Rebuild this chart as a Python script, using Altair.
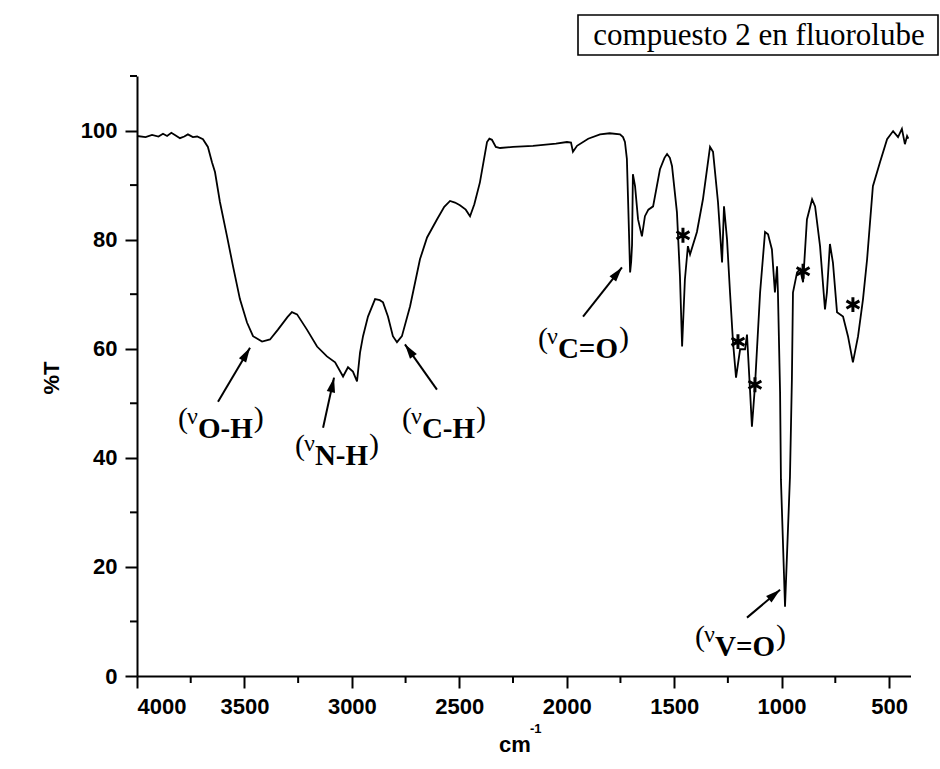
import math
import altair as alt
import pandas as pd

# ---------------- data ----------------
wavenumber = [4000, 3960, 3930, 3900, 3879, 3860, 3840, 3820, 3800, 3780, 3763, 3740, 3720,
              3693, 3670, 3651, 3637, 3614, 3581, 3553, 3521, 3488, 3460, 3418, 3381, 3344,
              3300, 3279, 3255, 3209, 3162, 3116, 3078, 3041, 3018, 2995, 2976, 2962, 2948,
              2925, 2892, 2870, 2855, 2832, 2809, 2790, 2767, 2729, 2683, 2650, 2604, 2570,
              2543, 2520, 2497, 2470, 2450, 2430, 2404, 2371, 2360, 2348, 2330, 2310, 2250,
              2157, 2050, 1999, 1980, 1971, 1952, 1900, 1845, 1800, 1752, 1738, 1729, 1720,
              1715, 1705, 1700, 1696, 1692, 1682, 1668, 1650, 1636, 1620, 1598, 1566, 1545,
              1533, 1520, 1510, 1487, 1473, 1463, 1450, 1436, 1426, 1394, 1366, 1333, 1319,
              1296, 1277, 1268, 1254, 1240, 1226, 1212, 1193, 1170, 1161, 1147, 1138, 1124,
              1100, 1077, 1063, 1045, 1031, 1021, 1017, 1007, 1003, 984, 961, 952, 947, 928,
              914, 900, 882, 858, 844, 821, 798, 789, 775, 761, 742, 714, 691, 668, 644, 621,
              602, 575, 542, 509, 481, 458, 440, 426, 416, 410]
transmittance = [99.0, 98.8, 99.2, 98.9, 99.4, 99.0, 99.6, 99.1, 98.6, 98.9, 99.3, 98.8, 98.9,
                 98.4, 97.0, 94.2, 92.4, 86.9, 80.6, 75.1, 69.1, 64.8, 62.3, 61.3, 61.7, 63.5,
                 65.8, 66.7, 66.3, 63.5, 60.4, 58.6, 57.5, 54.9, 56.6, 55.8, 54.0, 59.3, 62.3,
                 65.9, 69.1, 68.9, 68.5, 65.9, 62.3, 61.2, 62.3, 67.8, 76.4, 80.4, 83.7, 86.0,
                 87.1, 86.8, 86.3, 85.5, 84.3, 86.5, 90.5, 97.9, 98.5, 98.3, 97.0, 96.8, 97.0,
                 97.2, 97.6, 97.9, 97.8, 96.1, 97.2, 98.5, 99.3, 99.5, 99.3, 98.8, 97.9, 94.8,
                 88.0, 74.0, 76.0, 79.0, 92.0, 89.8, 83.7, 80.6, 84.3, 85.5, 86.1, 92.9, 95.0,
                 95.7, 95.0, 93.5, 85.0, 73.3, 60.4, 72.7, 78.8, 77.3, 81.4, 87.4, 97.0, 96.1,
                 86.9, 75.8, 86.1, 80.1, 70.3, 61.2, 54.7, 59.9, 59.9, 62.6, 52.5, 45.7, 53.1,
                 70.3, 81.4, 81.0, 78.2, 70.3, 75.1, 70.3, 52.0, 36.0, 12.7, 36.5, 54.4, 70.3, 74.0,
                 74.6, 72.2, 83.7, 87.4, 86.1, 78.8, 67.2, 70.3, 79.2, 75.8, 66.7, 65.9, 62.3, 57.5,
                 62.3, 69.1, 76.4, 89.8, 94.2, 98.4, 99.9, 98.8, 100.3, 97.5, 99.0, 98.5]

x_major = [4000, 3500, 3000, 2500, 2000, 1500, 1000, 500]
x_minor = [3750, 3250, 2750, 2250, 1750, 1250, 750]
y_major = [0, 20, 40, 60, 80, 100]
y_minor = [10, 30, 50, 70, 90, 110]

band_sub = ["O-H", "N-H", "C-H", "C=O", "V=O"]
band_label_x = [3809, 3265, 2767, 2134, 1403]
band_label_y = [45.5, 40.6, 45.5, 60.2, 5.5]
arrow_tail_x = [3623, 3134, 2604, 1924, 1161]
arrow_tail_y = [50.3, 45.5, 52.5, 65.9, 10.7]
arrow_head_x = [3474, 3083, 2753, 1743, 1007]
arrow_head_y = [60.2, 54.7, 60.8, 74.9, 15.8]

star_x = [1459, 1203, 1124, 900, 668]
star_y = [80.8, 61.3, 53.4, 74.2, 68.1]

title_text = "compuesto 2 en fluorolube"
y_title = "%T"
x_title = "cm"
x_title_sup = "-1"

# ---------------- layout ----------------
X_MIN, X_MAX = 400, 4000
Y_MIN, Y_MAX = 0, 110
W, H = 773.5, 600
LEFT, TOP = 137, 76
SANS = "Liberation Sans"
SERIF = "Liberation Serif"

xs = alt.Scale(domain=[X_MIN, X_MAX], reverse=True, nice=False, zero=False)
ys = alt.Scale(domain=[Y_MIN, Y_MAX], nice=False, zero=False)

axis_common = dict(title=None, grid=False, domainColor="black", domainWidth=2,
                   tickColor="black", tickWidth=2, tickSize=12, format="d",
                   labelFont=SANS, labelFontWeight="bold", labelFontSize=22,
                   labelColor="black")
x_axis = alt.Axis(values=x_major, labelPadding=8, **axis_common)
y_axis = alt.Axis(values=y_major, labelPadding=8, **axis_common)


def X(field):
    return alt.X(field, scale=xs, axis=x_axis)


def Y(field):
    return alt.Y(field, scale=ys, axis=y_axis)


spec = pd.DataFrame({"wn": wavenumber, "T": transmittance})
line = alt.Chart(spec).mark_line(color="black", strokeWidth=1.8).encode(
    x=X("wn:Q"), y=Y("T:Q"), order=alt.Order("wn:Q", sort="descending"))

minor_y = alt.Chart(pd.DataFrame({"v": y_minor})).mark_rule(color="black", strokeWidth=2).encode(
    y=Y("v:Q"), x=alt.value(-7), x2=alt.value(0))
minor_x = alt.Chart(pd.DataFrame({"v": x_minor})).mark_rule(color="black", strokeWidth=2).encode(
    x=X("v:Q"), y=alt.value(H), y2=alt.value(H + 7))

# arrows
px_per_x = W / (X_MAX - X_MIN)
px_per_y = H / (Y_MAX - Y_MIN)
angles = []
for tx, ty, hx, hy in zip(arrow_tail_x, arrow_tail_y, arrow_head_x, arrow_head_y):
    dxp = -(hx - tx) * px_per_x
    dyp = -(hy - ty) * px_per_y
    angles.append(math.degrees(math.atan2(dxp, -dyp)) % 360)
arr = pd.DataFrame({"tx": arrow_tail_x, "ty": arrow_tail_y, "hx": arrow_head_x,
                    "hy": arrow_head_y, "ang": angles})
shafts = alt.Chart(arr).mark_rule(color="black", strokeWidth=2).encode(
    x=X("tx:Q"), y=Y("ty:Q"), x2="hx:Q", y2="hy:Q")
heads = alt.Chart(arr).mark_point(shape="M0,0L-0.6,2.1L0.6,2.1Z", filled=True, color="black",
                                  size=196, opacity=1).encode(
    x=X("hx:Q"), y=Y("hy:Q"), angle=alt.Angle("ang:Q", scale=None))

# stars
stars = alt.Chart(pd.DataFrame({"x": star_x, "y": star_y})).mark_point(
    shape="M0,-1L0,1M-0.87,-0.5L0.87,0.5M-0.87,0.5L0.87,-0.5", filled=False,
    color="black", strokeWidth=3, size=220, opacity=1).encode(x=X("x:Q"), y=Y("y:Q"))

# band labels: "(" + "ν" + bold subscript + ")"
SUB_SIZE = 29
lab = pd.DataFrame({"x": band_label_x, "y": band_label_y, "sub": band_sub})
open_p = alt.Chart(lab).mark_text(text="(", font=SERIF, fontSize=30, align="left",
                                  baseline="alphabetic", color="black").encode(
    x=X("x:Q"), y=Y("y:Q"))
nu = alt.Chart(lab).mark_text(text="ν", font=SERIF, fontSize=24, align="left", dx=9, dy=-4,
                              baseline="alphabetic", color="black").encode(
    x=X("x:Q"), y=Y("y:Q"))
subs = alt.Chart(lab).mark_text(font=SERIF, fontSize=SUB_SIZE, fontWeight="bold", align="left",
                                dx=20, dy=10, baseline="alphabetic", color="black").encode(
    text="sub:N", x=X("x:Q"), y=Y("y:Q"))
bold_w = {"O": 0.778, "H": 0.778, "N": 0.722, "C": 0.722, "V": 0.722, "-": 0.333, "=": 0.570}
close_layers = []
for i, s in enumerate(band_sub):
    w = sum(bold_w[c] for c in s) * SUB_SIZE
    close_layers.append(
        alt.Chart(lab.iloc[[i]]).mark_text(text=")", font=SERIF, fontSize=30, align="left",
                                            dx=20 + w + 1, dy=-1, baseline="alphabetic",
                                            color="black").encode(x=X("x:Q"), y=Y("y:Q")))

# title box
one = pd.DataFrame({"k": [0]})
box = alt.Chart(one).mark_rect(fill="white", stroke="black", strokeWidth=1.6).encode(
    x=alt.value(441), x2=alt.value(801), y=alt.value(-61), y2=alt.value(-21))
title = alt.Chart(one).mark_text(text=title_text, font=SERIF, fontSize=31, align="center",
                                 baseline="middle", color="black").encode(
    x=alt.value(622), y=alt.value(-40))

ytitle = alt.Chart(one).mark_text(text=y_title, font=SANS, fontSize=22, fontWeight="bold",
                                  angle=270, align="center", baseline="middle",
                                  color="black").encode(x=alt.value(-85), y=alt.value(302))
xtitle = alt.Chart(one).mark_text(text=x_title, font=SANS, fontSize=22, fontWeight="bold",
                                  align="center", baseline="alphabetic",
                                  color="black").encode(x=alt.value(378), y=alt.value(676))
xsup = alt.Chart(one).mark_text(text=x_title_sup, font=SANS, fontSize=13, fontWeight="bold",
                                align="left", baseline="alphabetic",
                                color="black").encode(x=alt.value(393), y=alt.value(657))

chart = alt.layer(
    line, minor_y, minor_x, shafts, heads, stars, open_p, nu, subs, *close_layers,
    box, title, ytitle, xtitle, xsup
).properties(
    width=W, height=H, autosize="none",
    padding={"left": LEFT, "top": TOP, "right": 940 - LEFT - W, "bottom": 769 - TOP - H},
    background="white",
).configure_view(stroke=None)

chart.save("out.html", embed_options={"renderer": "svg", "actions": False})
